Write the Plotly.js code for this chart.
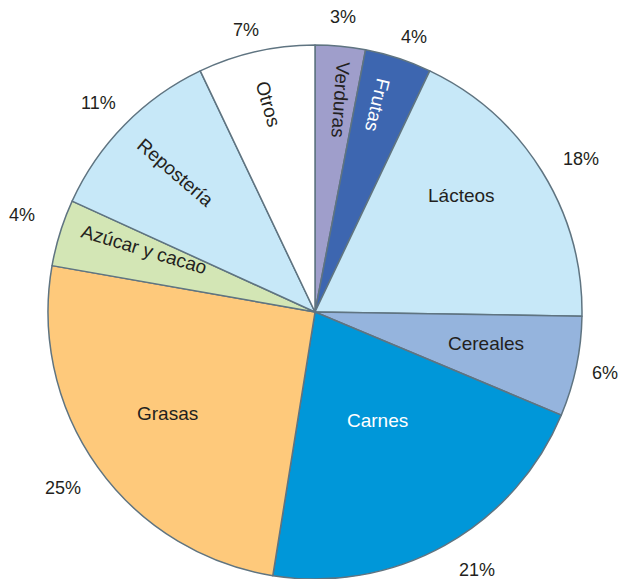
<!DOCTYPE html>
<html>
<head>
<meta charset="utf-8">
<script src="https://cdn.plot.ly/plotly-3.0.1.min.js"></script>
<style>html,body{margin:0;padding:0;background:#fff;}#chart{width:625px;height:579px;}</style>
</head>
<body>
<div id="chart"></div>
<script>
// Data
const categories = ['Verduras', 'Frutas', 'Lácteos', 'Cereales', 'Carnes', 'Grasas', 'Azúcar y cacao', 'Repostería', 'Otros'];
const shares = [3, 4, 18, 6, 21, 25, 4, 11, 7];
const shareLabels = shares.map(v => v + '%');

// Styles
const sliceColors = ['#9f9ecb', '#3d66b0', '#c7e8f8', '#95b4dd', '#0097d9', '#fec97b', '#d3e6b5', '#c7e8f8', '#ffffff'];
const nameColors = ['#231f20', '#ffffff', '#231f20', '#231f20', '#ffffff', '#231f20', '#231f20', '#231f20', '#231f20'];
const nameRadial = [true, true, false, false, false, false, true, true, true];
const nameRadius = [0.80, 0.81, 0.70, 0.65, 0.47, 0.67, 0.68, 0.74, 0.80];
const nameAngleShift = [1.3, -1.3, -6.7, -1.5, -1, 1, 2.7, 0.5, 0];
const nameRotShift = [-1.5, -5, 0, 0, 0, 0, -0.5, -4, -3.5];
const pctRadius = [1.11, 1.095, 1.15, 1.11, 1.14, 1.15, 1.157, 1.127, 1.086];
const pctAngleShift = [0, 1.6, 2, 0, -3, 0.5, 1, -0.5, -1];

const W = 625, H = 579;
const CX = 315, CY = 312, R = 267;

const total = shares.reduce((a, b) => a + b, 0);
let cum = 0;
const mids = shares.map(v => { const m = (cum + v / 2) / total * 360; cum += v; return m; });

function toPaper(angDeg, r) {
  const a = angDeg * Math.PI / 180;
  const px = CX + r * Math.sin(a);
  const py = CY - r * Math.cos(a);
  return { x: px / W, y: 1 - py / H };
}

const annotations = [];
categories.forEach((name, i) => {
  const ang = mids[i] + nameAngleShift[i];
  const p = toPaper(ang, nameRadius[i] * R);
  let rot = 0;
  if (nameRadial[i]) { rot = mids[i] + 90 + nameRotShift[i]; while (rot > 180) rot -= 360; }
  annotations.push({
    x: p.x, y: p.y, xref: 'paper', yref: 'paper', xanchor: 'center', yanchor: 'middle',
    text: name, showarrow: false, textangle: rot,
    font: { family: 'Liberation Sans, Arial, sans-serif', size: 19, color: nameColors[i] }
  });
  const q = toPaper(mids[i] + pctAngleShift[i], pctRadius[i] * R);
  annotations.push({
    x: q.x, y: q.y, xref: 'paper', yref: 'paper', xanchor: 'center', yanchor: 'middle',
    text: shareLabels[i], showarrow: false,
    font: { family: 'Liberation Sans, Arial, sans-serif', size: 18, color: '#231f20' }
  });
});

const trace = {
  type: 'pie',
  labels: categories,
  values: shares,
  sort: false,
  direction: 'clockwise',
  rotation: 0,
  textinfo: 'none',
  hoverinfo: 'label+percent',
  marker: { colors: sliceColors, line: { color: '#5f7481', width: 1.5 } },
  domain: { x: [(CX - R) / W, (CX + R) / W], y: [(H - CY - R) / H, (H - CY + R) / H] },
  showlegend: false
};

const layout = {
  width: W, height: H,
  margin: { l: 0, r: 0, t: 0, b: 0 },
  paper_bgcolor: '#ffffff',
  showlegend: false,
  annotations: annotations
};

Plotly.newPlot('chart', [trace], layout, { displayModeBar: false, staticPlot: true });
</script>
</body>
</html>
